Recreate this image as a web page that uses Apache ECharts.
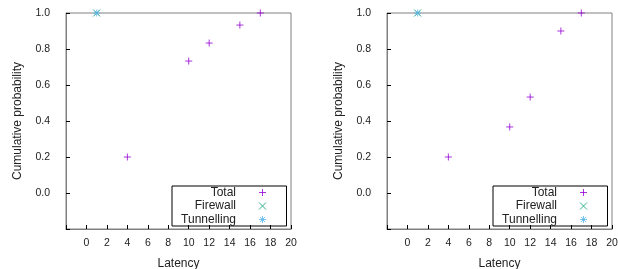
<!DOCTYPE html>
<html>
<head>
<meta charset="utf-8">
<script src="https://cdn.jsdelivr.net/npm/echarts@6/dist/echarts.min.js"></script>
<style>
html, body { margin: 0; padding: 0; background: #fff; }
#charts { width: 618px; height: 269px; }
</style>
</head>
<body>
<div id="charts"></div>
<script>
// data
var latency = [4, 10, 12, 15, 17];
var totalLeft = [0.2, 0.733, 0.833, 0.933, 1.0];
var totalRight = [0.2, 0.367, 0.533, 0.9, 1.0];
var firewallX = [1];
var firewallY = [1.0];
var tunnelX = [1];
var tunnelY = [1.0];
var legendNames = ['Total', 'Firewall', 'Tunnelling'];

var FONT = '"Liberation Sans", Arial, sans-serif';
var PLUS = 'path://M0,5L10,5M5,0L5,10';
var CROSS = 'path://M0,0L10,10M10,0L0,10';
var STAR = 'path://M5,0L5,10M0,5L10,5M1.5,1.5L8.5,8.5M8.5,1.5L1.5,8.5';
var colors = { Total: '#9400D3', Firewall: '#009E73', Tunnelling: '#56B4E9' };
var symbols = { Total: PLUS, Firewall: CROSS, Tunnelling: STAR };

function pairs(xs, ys) {
	var out = [];
	for (var i = 0; i < xs.length; i++) out.push([xs[i], ys[i]]);
	return out;
}

function xAxis(idx) {
	return {
		gridIndex: idx, type: 'value', min: -2, max: 20, interval: 2,
		name: 'Latency', nameLocation: 'middle', nameGap: 29,
		nameTextStyle: { fontFamily: FONT, fontSize: 12, color: '#222' },
		axisLine: { show: true, onZero: false, lineStyle: { color: '#808080' } },
		axisTick: { inside: true, length: 4, lineStyle: { color: '#000' } },
		axisLabel: {
			margin: 9, fontFamily: FONT, fontSize: 10.5, color: '#222',
			formatter: function (v) { return v < 0 ? '' : String(v); }
		},
		splitLine: { show: false }
	};
}

function yAxis(idx) {
	return {
		gridIndex: idx, type: 'value', min: -0.2, max: 1.0, interval: 0.2,
		name: 'Cumulative probability', nameLocation: 'middle', nameGap: 42,
		nameTextStyle: { fontFamily: FONT, fontSize: 12, color: '#222' },
		axisLine: { show: true, onZero: false, lineStyle: { color: '#808080' } },
		axisTick: { inside: true, length: 4, lineStyle: { color: '#000' } },
		axisLabel: {
			margin: 16, fontFamily: FONT, fontSize: 10.5, color: '#222',
			formatter: function (v) {
				if (v < -0.01) return '';
				if (Math.abs(v) < 1e-9) return '0.0';
				return v.toFixed(1);
			}
		},
		splitLine: { show: false }
	};
}

function scatter(name, idx, data) {
	return {
		name: name, type: 'scatter', xAxisIndex: idx, yAxisIndex: idx,
		data: data, symbol: symbols[name], symbolSize: 7, clip: false,
		itemStyle: { color: 'none', borderColor: colors[name], borderWidth: 1 },
		emphasis: { disabled: true }
	};
}

function legend(left) {
	return {
		data: legendNames.map(function (n) {
			return { name: n, icon: symbols[n], itemStyle: { color: 'none', borderColor: colors[n], borderWidth: 1 } };
		}),
		orient: 'vertical', align: 'right',
		left: left, top: 186,
		itemWidth: 7, itemHeight: 7, itemGap: 0.5,
		padding: [0, 18, 0, 2],
		borderColor: '#000', borderWidth: 1,
		textStyle: {
			fontFamily: FONT, fontSize: 12, color: '#222',
			width: 62, align: 'right', height: 13, lineHeight: 13,
			padding: [0, 18, 0, 0]
		}
	};
}

var chart = echarts.init(document.getElementById('charts'));
chart.setOption({
	animation: false,
	grid: [
		{ left: 66, top: 13, width: 225, height: 216, show: true, borderColor: '#808080', borderWidth: 1, outerBoundsMode: 'none', containLabel: false },
		{ left: 387, top: 13, width: 225, height: 216, show: true, borderColor: '#808080', borderWidth: 1, outerBoundsMode: 'none', containLabel: false }
	],
	xAxis: [xAxis(0), xAxis(1)],
	yAxis: [yAxis(0), yAxis(1)],
	legend: [legend(172), legend(493)],
	series: [
		scatter('Total', 0, pairs(latency, totalLeft)),
		scatter('Firewall', 0, pairs(firewallX, firewallY)),
		scatter('Tunnelling', 0, pairs(tunnelX, tunnelY)),
		scatter('Total', 1, pairs(latency, totalRight)),
		scatter('Firewall', 1, pairs(firewallX, firewallY)),
		scatter('Tunnelling', 1, pairs(tunnelX, tunnelY))
	]
});
</script>
</body>
</html>
